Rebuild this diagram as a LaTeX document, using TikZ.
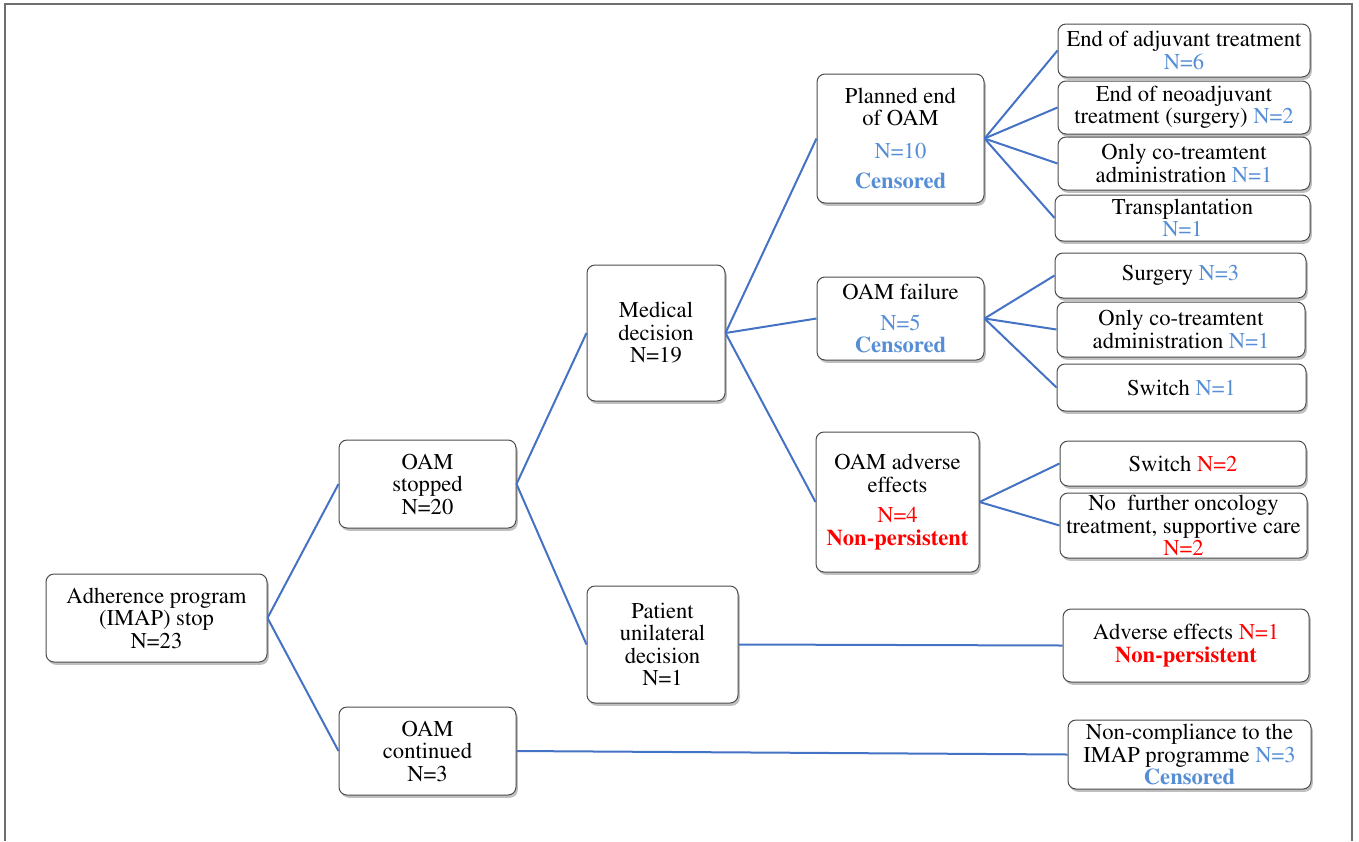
\documentclass[tikz,border=0pt]{standalone}
\usepackage[T1]{fontenc}
\renewcommand{\rmdefault}{ptm}
\renewcommand{\bfdefault}{b}
\usetikzlibrary{shadows}
\definecolor{lineblue}{RGB}{68,114,196}
\definecolor{txtblue}{RGB}{85,142,213}
\definecolor{txtred}{RGB}{255,0,0}
\definecolor{framegray}{RGB}{110,110,110}
\newcommand{\nb}[1]{\textcolor{txtblue}{#1}}
\newcommand{\nr}[1]{\textcolor{txtred}{#1}}
\begin{document}
\begin{tikzpicture}[x=1pt,y=-1pt,
  font=\fontsize{22.6}{22.5}\selectfont,
  box/.style={draw=black!70, line width=1pt, rounded corners=8pt, fill=white,
    align=center, inner sep=0pt,
    drop shadow={shadow xshift=1.8pt, shadow yshift=-2.8pt, fill=black!50, opacity=0.5}},
  conn/.style={lineblue, line width=2pt}]
\useasboundingbox (0,0) rectangle (1359,841);
\draw[framegray, line width=1.5pt] (5,841) -- (5,4) -- (1352,4) -- (1352,841);

% level 0-2
\node[box, minimum width=221pt, minimum height=88pt] (adh) at (156.5,618) {Adherence program\\(IMAP) stop\\N=23};
\node[box, minimum width=177pt, minimum height=88pt] (stop) at (427.5,484) {OAM\\stopped\\N=20};
\node[box, minimum width=177pt, minimum height=88pt] (cont) at (427.5,751) {OAM\\continued\\N=3};
\node[box, minimum width=138pt, minimum height=136pt] (med) at (656,333) {Medical\\decision\\N=19};
\node[box, minimum width=151pt, minimum height=117pt] (pat) at (662.5,644.5) {Patient\\unilateral\\decision\\N=1};

% level 3
\node[box, minimum width=167pt, minimum height=129pt] (plan) at (900.5,138.5) {Planned end\\of OAM\\[10pt]\nb{N=10}\\[8pt]\nb{\textbf{Censored}}};
\node[box, minimum width=167pt, minimum height=83pt] (fail) at (900.5,318.5) {OAM failure\\[8pt]\nb{N=5}\\\nb{\textbf{Censored}}};
\node[box, minimum width=163pt, minimum height=140pt] (adv) at (897.5,502) {OAM adverse\\effects\\[8pt]\nr{N=4}\\\nr{\textbf{Non-persistent}}};

% leaves
\node[box, minimum width=252pt, minimum height=53pt] (c1) at (1184,50.5) {End of adjuvant treatment\\\nb{N=6}};
\node[box, minimum width=252pt, minimum height=53pt] (c2) at (1184,107.5) {End of neoadjuvant\\treatment (surgery) \nb{N=2}};
\node[box, minimum width=252pt, minimum height=53pt] (c3) at (1184,163.5) {Only co-treamtent\\administration \nb{N=1}};
\node[box, minimum width=255pt, minimum height=46pt] (c4) at (1182.5,218) {Transplantation\\\nb{N=1}};
\node[box, minimum width=251pt, minimum height=45pt] (d1) at (1180.5,275.5) {Surgery \nb{N=3}};
\node[box, minimum width=248pt, minimum height=55pt] (d2) at (1181,329.5) {Only co-treamtent\\administration \nb{N=1}};
\node[box, minimum width=249pt, minimum height=47pt] (d3) at (1181.5,387.5) {Switch \nb{N=1}};
\node[box, minimum width=246pt, minimum height=45pt] (e1) at (1183,463.5) {Switch \nr{N=2}};
\node[box, minimum width=247pt, minimum height=65pt] (e2) at (1183.5,525.5) {No\ \ further oncology\\treatment, supportive care\\\nr{N=2}};
\node[box, minimum width=246pt, minimum height=73pt] (p1) at (1186,645.5) {Adverse effects \nr{N=1}\\\nr{\textbf{Non-persistent}}};
\node[box, minimum width=243pt, minimum height=69pt] (n1) at (1189.5,754.5) {Non-compliance to the\\IMAP programme \nb{N=3}\\\nb{\textbf{Censored}}};

% connectors
\draw[conn] (adh.east) -- (stop.west);
\draw[conn] (adh.east) -- (cont.west);
\draw[conn] (stop.east) -- (med.west);
\draw[conn] (stop.east) -- (pat.west);
\draw[conn] (med.east) -- (plan.west);
\draw[conn] (med.east) -- (fail.west);
\draw[conn] (med.east) -- (adv.west);
\draw[conn] (plan.east) -- (c1.west);
\draw[conn] (plan.east) -- (c2.west);
\draw[conn] (plan.east) -- (c3.west);
\draw[conn] (plan.east) -- (c4.west);
\draw[conn] (fail.east) -- (d1.west);
\draw[conn] (fail.east) -- (d2.west);
\draw[conn] (fail.east) -- (d3.west);
\draw[conn] (adv.east) -- (e1.west);
\draw[conn] (adv.east) -- (e2.west);
\draw[conn] (pat.east) -- (p1.west);
\draw[conn] (cont.east) -- (n1.west);
\end{tikzpicture}
\end{document}
